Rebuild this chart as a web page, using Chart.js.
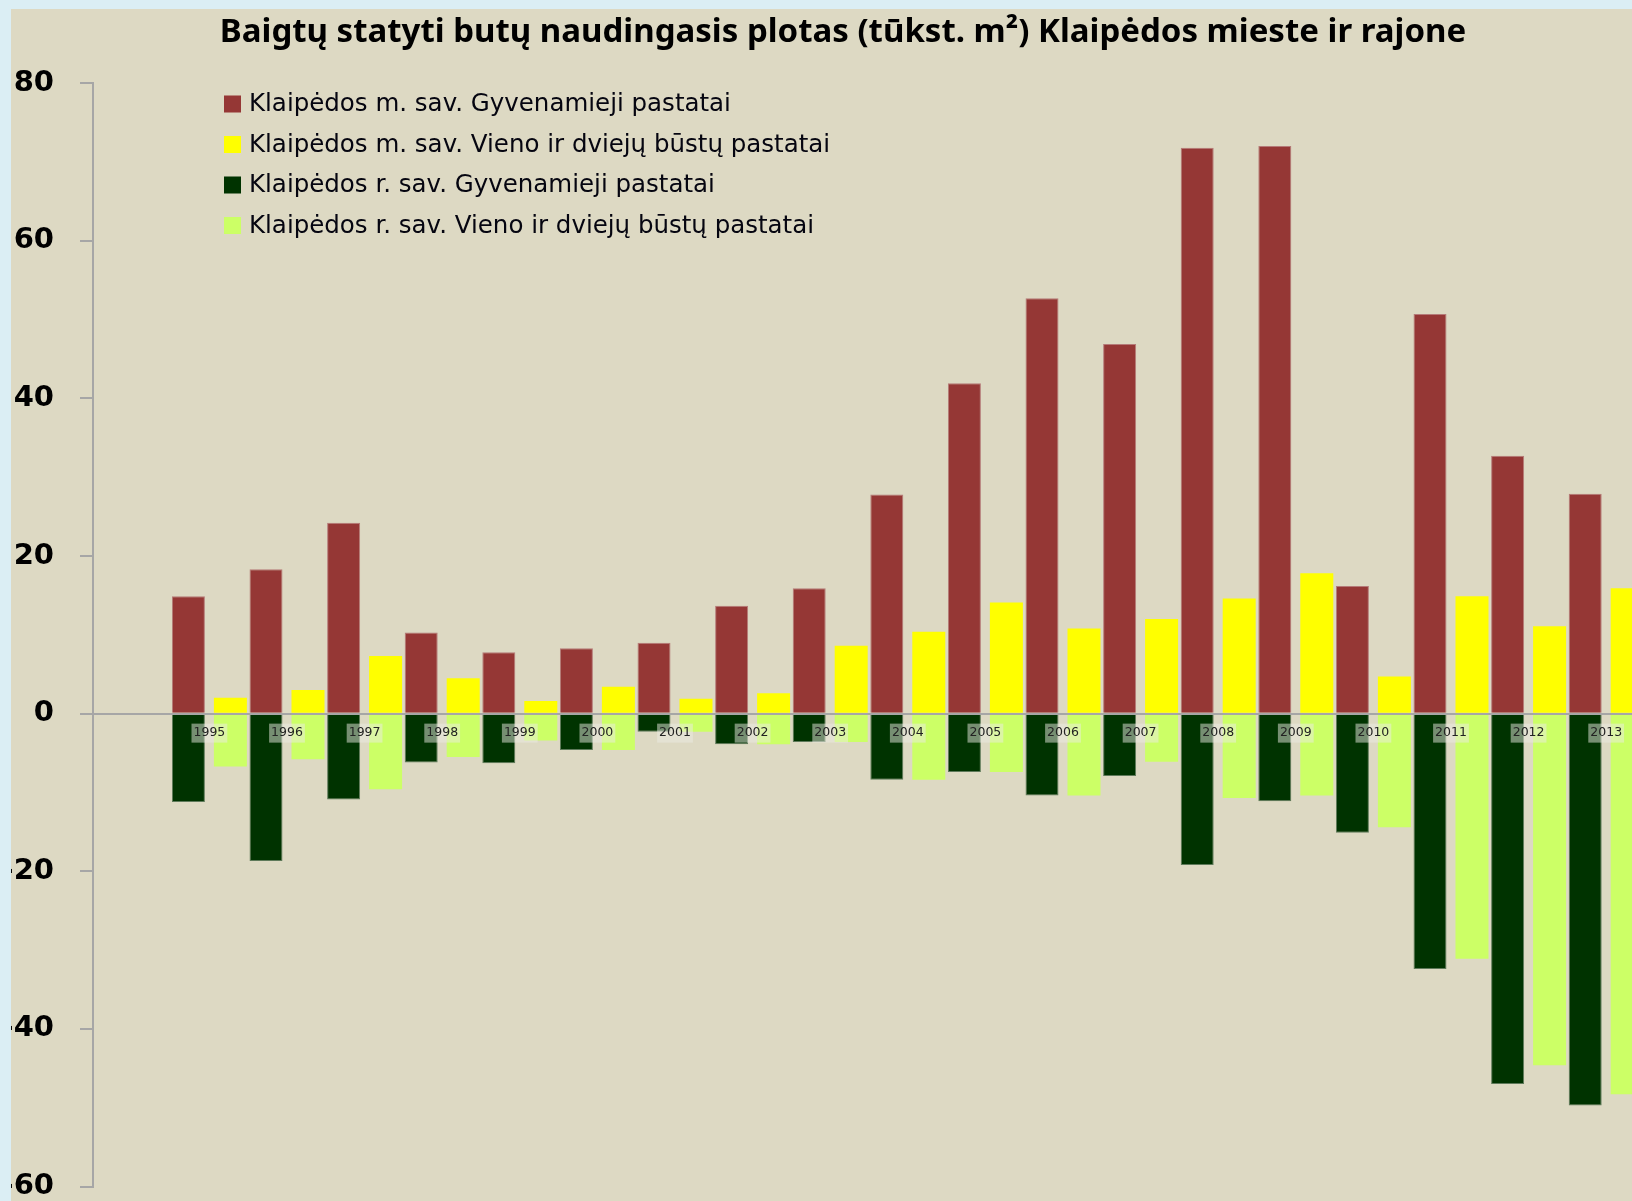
<!DOCTYPE html>
<html>
<head>
<meta charset="utf-8">
<script src="https://cdn.jsdelivr.net/npm/chart.js@4.4.1/dist/chart.umd.min.js"></script>
<style>
    body { margin: 0; width: 1632px; height: 1201px; overflow: hidden; background: #DBEEF4; }
    /* beige chart panel, light blue strip shows on top and left */
    #frame { position: absolute; left: 11px; top: 9px; width: 1621px; height: 1192px; overflow: hidden; background: #DDD9C3; }
    #chart { position: absolute; left: -11px; top: -9px; }
</style>
</head>
<body>
<div id="frame"><canvas id="chart" width="1660" height="1230"></canvas></div>
<script>
// ----- data (tūkst. m²) -----
const years = ['1995', '1996', '1997', '1998', '1999', '2000', '2001', '2002', '2003', '2004',
               '2005', '2006', '2007', '2008', '2009', '2010', '2011', '2012', '2013'];

// Klaipėdos m. sav. - Gyvenamieji pastatai
const cityAll = [14.9, 18.3, 24.2, 10.3, 7.8, 8.3, 9.0, 13.7, 15.9, 27.8,
                 41.9, 52.7, 46.9, 71.8, 72.0, 16.2, 50.7, 32.7, 27.9];
// Klaipėdos m. sav. - Vieno ir dviejų būstų pastatai
const cityHouses = [2.0, 3.0, 7.3, 4.5, 1.6, 3.4, 1.9, 2.6, 8.6, 10.4,
                    14.1, 10.8, 12.0, 14.6, 17.8, 4.7, 14.9, 11.1, 15.9];
// Klaipėdos r. sav. - Gyvenamieji pastatai (drawn downwards)
const districtAll = [-11.2, -18.7, -10.9, -6.2, -6.3, -4.6, -2.3, -3.9, -3.6, -8.4,
                     -7.4, -10.4, -7.9, -19.2, -11.1, -15.1, -32.4, -47.0, -49.7];
// Klaipėdos r. sav. - Vieno ir dviejų būstų pastatai (drawn downwards)
const districtHouses = [-6.7, -5.8, -9.6, -5.5, -3.4, -4.6, -2.3, -3.9, -3.6, -8.4,
                        -7.4, -10.4, -6.1, -10.7, -10.4, -14.4, -31.1, -44.6, -48.3];

const yTicks = [-60, -40, -20, 0, 20, 40, 60, 80];
const chartTitle = 'Baigtų statyti butų naudingasis plotas (tūkst. m²) Klaipėdos mieste ir rajone';

// the original leaves one empty slot between the axis and 1995
const labels = [''].concat(years);
const pad = arr => [null].concat(arr);

// title + legend drawn straight on the canvas (legend sits inside the plot, top-left)
const boxLegend = {
    id: 'boxLegend',
    afterDraw(chart) {
        const ctx = chart.ctx;
        ctx.save();
        ctx.fillStyle = '#000';
        ctx.font = 'bold 33px "Noto Sans"';
        ctx.textAlign = 'center';
        ctx.textBaseline = 'middle';
        ctx.fillText(chartTitle, 843, 33);

        ctx.textAlign = 'left';
        ctx.font = '24.5px "DejaVu Sans"';
        chart.data.datasets.forEach((ds, i) => {
            const y = 104 + i * 40.5;
            ctx.fillStyle = ds.backgroundColor;
            ctx.fillRect(224, y - 8.5, 17, 17);
            ctx.fillStyle = '#050510';
            ctx.fillText(ds.label, 249, y + 1);
        });
        ctx.restore();
    }
};

const ctx = document.getElementById('chart').getContext('2d');
new Chart(ctx, {
    type: 'bar',
    data: {
        labels: labels,
        datasets: [
            { label: 'Klaipėdos m. sav. Gyvenamieji pastatai', data: pad(cityAll), stack: 'a',
              backgroundColor: '#953735', borderColor: '#B57A78', borderWidth: 1 },
            { label: 'Klaipėdos m. sav. Vieno ir dviejų būstų pastatai', data: pad(cityHouses), stack: 'b',
              backgroundColor: '#FFFF00', borderWidth: 0 },
            { label: 'Klaipėdos r. sav. Gyvenamieji pastatai', data: pad(districtAll), stack: 'a',
              backgroundColor: '#003300', borderColor: '#5E7A5A', borderWidth: 1 },
            { label: 'Klaipėdos r. sav. Vieno ir dviejų būstų pastatai', data: pad(districtHouses), stack: 'b',
              backgroundColor: '#CCFF66', borderWidth: 0 }
        ]
    },
    options: {
        responsive: false,
        animation: false,
        devicePixelRatio: 1,
        categoryPercentage: 1.082,
        barPercentage: 0.786,
        layout: { padding: { left: 0, right: 15, top: 83, bottom: 41 } },
        plugins: {
            legend: { display: false },
            tooltip: { enabled: false },
            title: { display: false }
        },
        scales: {
            x: {
                stacked: true,
                position: { y: 0 },
                grid: { drawOnChartArea: false, drawTicks: false },
                border: { color: '#A6A6A6', width: 2, z: 1 },
                ticks: {
                    z: 1,
                    autoSkip: false,
                    maxRotation: 0,
                    padding: 12,
                    color: '#222',
                    font: { family: 'DejaVu Sans', size: 12.5 },
                    showLabelBackdrop: true,
                    backdropPadding: { x: 2, y: 2 },
                    backdropColor: c => (c.tick && c.tick.label) ? 'rgba(235,235,228,0.5)' : 'rgba(0,0,0,0)'
                },
                afterFit(scale) { scale.height = 0; }
            },
            y: {
                stacked: true,
                min: yTicks[0],
                max: yTicks[yTicks.length - 1],
                afterBuildTicks(scale) { scale.ticks = yTicks.map(v => ({ value: v })); },
                grid: { drawOnChartArea: false, drawTicks: true, tickLength: 13, color: '#A6A6A6', lineWidth: 2 },
                border: { color: '#A6A6A6', width: 2 },
                ticks: {
                    padding: 26,
                    color: '#000',
                    font: { family: 'DejaVu Sans', size: 29, weight: 'bold' }
                },
                afterFit(scale) { scale.width = 93; }
            }
        }
    },
    plugins: [boxLegend]
});
</script>
</body>
</html>
